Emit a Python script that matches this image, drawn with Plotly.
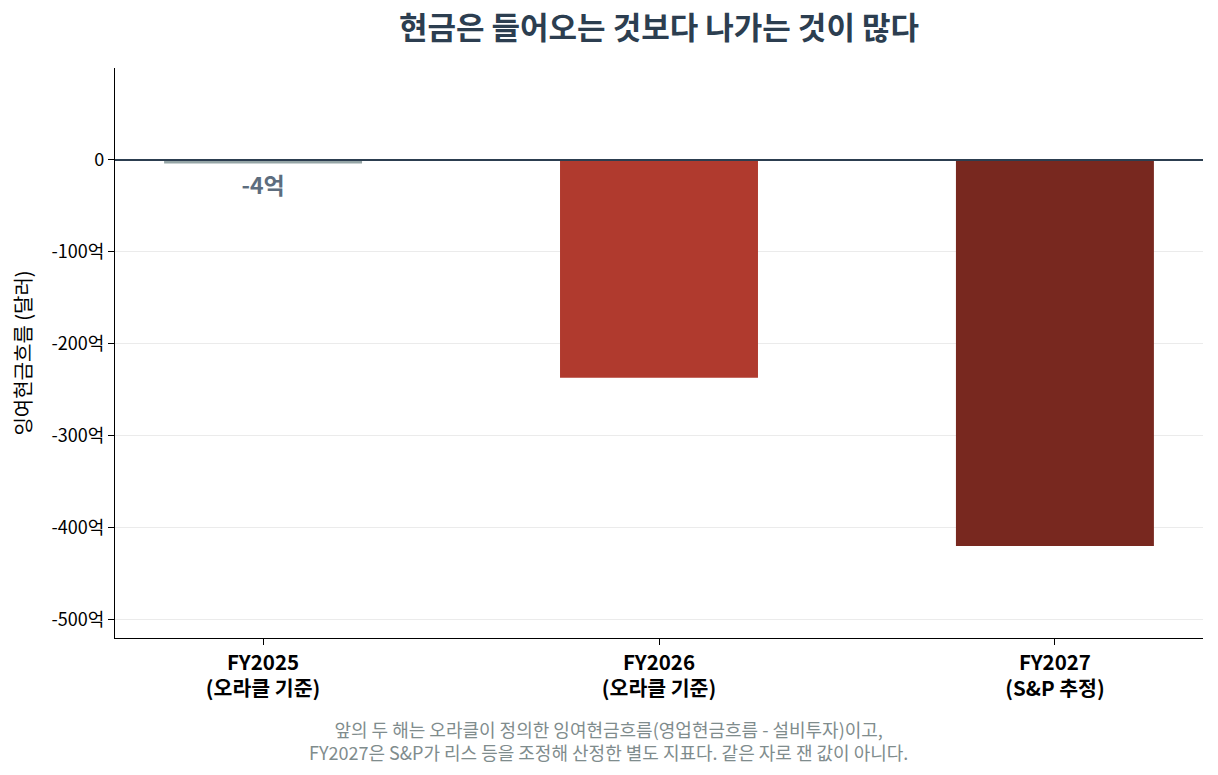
import plotly.graph_objects as go

# Data (억 달러)
categories = ["FY2025<br>(오라클 기준)", "FY2026<br>(오라클 기준)", "FY2027<br>(S&P 추정)"]
fcf_values = [-4, -237, -420]
bar_labels = ["-4억", "", ""]
tick_vals = [0, -100, -200, -300, -400, -500]
tick_text = ["0", "-100억", "-200억", "-300억", "-400억", "-500억"]

colors = ["#95a5a6", "#b03a2e", "#78281f"]
font_kr = "Noto Sans CJK KR"

fig = go.Figure()
fig.add_trace(go.Bar(
    x=categories,
    y=fcf_values,
    width=0.5,
    marker=dict(color=colors, line=dict(width=0)),
    text=bar_labels,
    textposition="outside",
    textfont=dict(family=font_kr, size=23, color="#5d6d7e", weight="bold"),
    cliponaxis=False,
    showlegend=False,
))

fig.add_hline(y=0, line=dict(color="#2c3e50", width=2))

fig.add_annotation(
    text="앞의 두 해는 오라클이 정의한 잉여현금흐름(영업현금흐름 - 설비투자)이고,<br>"
         "FY2027은 S&P가 리스 등을 조정해 산정한 별도 지표다. 같은 자로 잰 값이 아니다.",
    xref="paper", yref="paper",
    x=0.454, y=-0.18,
    xanchor="center", yanchor="middle",
    showarrow=False,
    align="center",
    font=dict(family=font_kr, size=18, color="#7f8c8d"),
)

# page body adds an 8px offset, so the figure is a little smaller than the window
fig.update_layout(
    width=1210,
    height=767,
    title=dict(
        text="<b>현금은 들어오는 것보다 나가는 것이 많다</b>",
        x=0.538, xanchor="center", y=0.974, yanchor="middle",
        font=dict(family=font_kr, size=31, color="#2c3e50"),
    ),
    font=dict(family=font_kr, size=17, color="#000000"),
    plot_bgcolor="white",
    paper_bgcolor="white",
    margin=dict(l=107, r=15, t=60, b=137),
    xaxis=dict(
        range=[-0.374, 2.374],
        showline=True, linecolor="#000000", linewidth=1.2,
        ticks="outside", ticklen=6, tickcolor="#000000",
        tickfont=dict(family=font_kr, size=20.5, color="#000000", weight="bold"),
        showgrid=False,
    ),
    yaxis=dict(
        range=[-520, 100],
        tickvals=tick_vals,
        ticktext=tick_text,
        showline=True, linecolor="#000000", linewidth=1.2,
        ticks="outside", ticklen=6, tickcolor="#000000",
        tickfont=dict(family=font_kr, size=18, color="#000000"),
        showgrid=True, gridcolor="#ebebeb", gridwidth=1,
        zeroline=False,
        title=dict(text="잉여현금흐름 (달러)", font=dict(family=font_kr, size=20, color="#000000"), standoff=14),
    ),
)

fig.write_html("out.html")
